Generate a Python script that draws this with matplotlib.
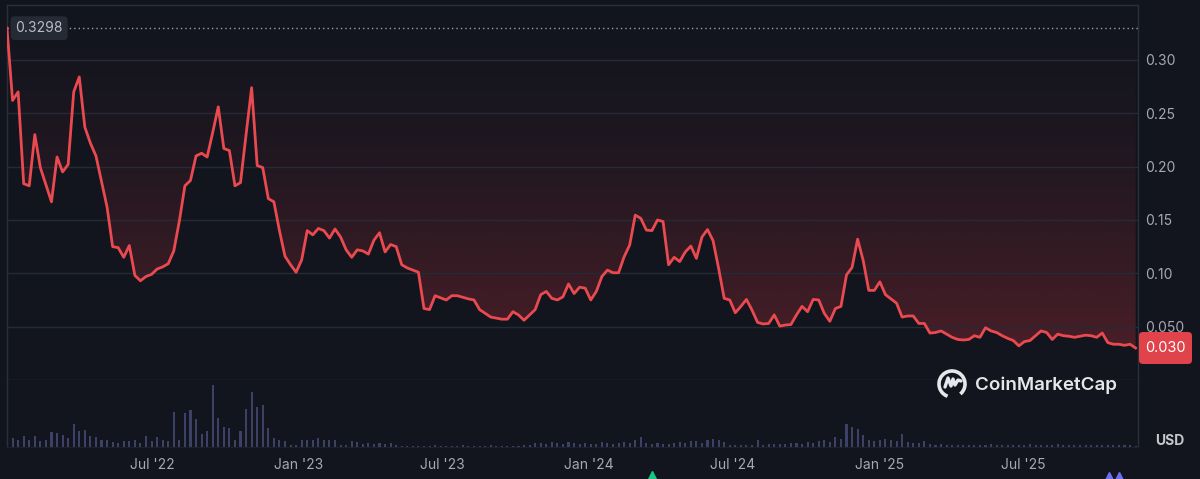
import numpy as np
import pandas as pd
import matplotlib
matplotlib.use("Agg")
import matplotlib.pyplot as plt
import matplotlib.dates as mdates
from matplotlib.patches import FancyBboxPatch, Arc
from matplotlib.transforms import IdentityTransform, blended_transform_factory
from matplotlib.lines import Line2D

plt.rcParams['font.family'] = ['Inter', 'DejaVu Sans']

# ---------------- data ----------------
start_date = "2021-12-30"
price_usd = [
    0.3298, 0.262, 0.270, 0.184, 0.182, 0.230, 0.199, 0.183, 0.167, 0.209,
    0.195, 0.202, 0.270, 0.284, 0.237, 0.222, 0.210, 0.186, 0.162, 0.125,
    0.124, 0.115, 0.126, 0.098, 0.093, 0.097, 0.099, 0.104, 0.106, 0.109,
    0.121, 0.149, 0.182, 0.187, 0.210, 0.2125, 0.209, 0.232, 0.256, 0.217,
    0.215, 0.182, 0.185, 0.230, 0.274, 0.201, 0.199, 0.170, 0.167, 0.140,
    0.116, 0.108, 0.101, 0.1125, 0.140, 0.136, 0.142, 0.140, 0.133, 0.1415,
    0.134, 0.122, 0.115, 0.122, 0.121, 0.118, 0.131, 0.138, 0.120, 0.127,
    0.125, 0.108, 0.105, 0.103, 0.101, 0.067, 0.066, 0.079, 0.077, 0.075,
    0.079, 0.079, 0.0775, 0.076, 0.075, 0.066, 0.0625, 0.059, 0.058, 0.057,
    0.057, 0.064, 0.061, 0.056, 0.061, 0.066, 0.080, 0.083, 0.0765, 0.075,
    0.078, 0.090, 0.081, 0.087, 0.086, 0.075, 0.083, 0.097, 0.103, 0.1005,
    0.1005, 0.1155, 0.1265, 0.1545, 0.1515, 0.1405, 0.140, 0.150, 0.1485, 0.108,
    0.115, 0.111, 0.120, 0.1255, 0.114, 0.134, 0.141, 0.1305, 0.1045, 0.0765,
    0.075, 0.063, 0.069, 0.0755, 0.0655, 0.054, 0.0525, 0.053, 0.061, 0.0505,
    0.0515, 0.052, 0.061, 0.069, 0.064, 0.0755, 0.075, 0.0625, 0.055, 0.067,
    0.069, 0.0985, 0.1055, 0.132, 0.112, 0.084, 0.084, 0.092, 0.080, 0.076,
    0.072, 0.059, 0.060, 0.060, 0.053, 0.053, 0.044, 0.0445, 0.046, 0.043,
    0.040, 0.038, 0.0375, 0.038, 0.0415, 0.040, 0.049, 0.046, 0.0445, 0.0415,
    0.039, 0.037, 0.032, 0.036, 0.037, 0.0415, 0.046, 0.0445, 0.038, 0.043,
    0.0415, 0.041, 0.040, 0.041, 0.042, 0.0415, 0.040, 0.044, 0.035, 0.0335,
    0.0335, 0.0325, 0.0335, 0.030,
]
volume_m = [
    9, 9, 6.7, 11, 7, 10.7, 5.7, 7, 14.7, 14,
    12.3, 9, 23, 15.7, 17.3, 11.3, 9.7, 7.3, 7.3, 4.7,
    4, 5.7, 5.7, 6.7, 4, 11.3, 5.7, 9.7, 6.7, 5.7,
    34.7, 7.3, 34, 36.7, 28, 13.3, 15.7, 62.3, 29, 20,
    19, 7.3, 15.7, 38, 54.7, 40, 42.3, 19, 9, 7.3,
    5.7, 2.3, 2.3, 7.3, 7.3, 7.3, 9, 7.3, 7.3, 6.7,
    2.3, 2.3, 5.7, 4.7, 3.3, 4, 3.3, 4, 3.3, 4,
    2.3, 1.5, 1.5, 1.5, 1.5, 1.5, 1.5, 2, 1.5, 1.5,
    1.5, 1.5, 2, 1.5, 1.5, 1.5, 1.5, 2, 1.5, 1.5,
    1.5, 1.5, 1.5, 2, 2, 4, 4.5, 3.5, 5, 4,
    3.5, 5, 4, 3, 4, 3, 3.5, 5, 4, 3,
    4, 5, 4, 7, 10, 4, 3.5, 4, 3, 3.5,
    4, 5, 4.5, 6, 6, 4, 7, 8, 7, 5,
    2, 2, 2, 2, 2, 7, 2.5, 3, 3.5, 3,
    3, 4, 4, 3, 5, 4, 6, 7, 5, 10,
    8, 23, 20, 18, 12, 7, 6, 7, 8, 7,
    6, 13, 5, 4, 4, 6, 3, 2.5, 3, 2,
    2, 2.5, 2, 2, 2.5, 2, 2, 3, 2, 2,
    2, 2.5, 2, 2, 3, 2, 2, 2.5, 2, 3,
    2, 2, 2.5, 2, 2, 2, 2, 2, 2, 2,
    2, 2.5, 2, 1.5,
]
dates = pd.date_range(start_date, periods=len(price_usd), freq="7D")

y_ticks = [0.05, 0.10, 0.15, 0.20, 0.25, 0.30]
y_tick_labels = ["0.050", "0.10", "0.15", "0.20", "0.25", "0.30"]
x_ticks = pd.to_datetime(["2022-07-01", "2023-01-01", "2023-07-01", "2024-01-01",
                          "2024-07-01", "2025-01-01", "2025-07-01"])
x_tick_labels = ["Jul '22", "Jan '23", "Jul '23", "Jan '24", "Jul '24", "Jan '25", "Jul '25"]
ath_value = max(price_usd)
last_value = price_usd[-1]

# ---------------- style ----------------
BG = "#12151e"
GRID = "#262a35"
SPINE = "#2b2f3b"
RED = "#ea4a4f"
TXT = "#a6a9b2"
VOL = "#3d4166"

W, H = 1200, 479
fig = plt.figure(figsize=(W / 100, H / 100), dpi=100, facecolor=BG)


def fx(px):
    return px / W


def fy(py):
    return 1 - py / H


L, R = 7, 1138
ax = fig.add_axes([fx(L), fy(380), fx(R) - fx(L), fy(5) - fy(380)], facecolor=BG)
axv = fig.add_axes([fx(L), fy(447), fx(R) - fx(L), fy(380) - fy(447)], facecolor=BG, sharex=ax)

x0 = mdates.date2num(dates[0])
x1 = x0 + 1424
ytop = (380 - 5) / 1067.0
ax.set_xlim(x0, x1)
ax.set_ylim(0, ytop)

# gradient above the line
n = 300
vals = np.linspace(0, ytop, n)
alpha = 0.26 * np.clip((0.36 - vals) / 0.33, 0, 1) ** 1.6
img = np.zeros((n, 1, 4))
img[:, 0, 0] = 234 / 255
img[:, 0, 1] = 57 / 255
img[:, 0, 2] = 67 / 255
img[:, 0, 3] = alpha
poly = ax.fill_between(dates, price_usd, ytop, facecolor="none", edgecolor="none")
im = ax.imshow(img, extent=[x0, x1, 0, ytop], origin="lower", aspect="auto",
               interpolation="bilinear", zorder=1)
im.set_clip_path(poly.get_paths()[0], ax.transData)

ax.plot(dates, price_usd, color=RED, lw=2.0, zorder=4, solid_joinstyle="round")

# ATH dotted line + label
ax.axhline(ath_value, color="#9a9ea8", lw=1.0, ls=(0, (1, 2.2)), zorder=3)
btr = blended_transform_factory(ax.transAxes, ax.transData)
ax.text(0.0075, ath_value, f"{ath_value:.4f}", transform=btr, ha="left", va="center",
        color="#b8bcc6", fontsize=10,
        bbox=dict(boxstyle="round,pad=0.35,rounding_size=0.3", fc="#262a35", ec="none"),
        zorder=5)

# grid / spines
ax.set_yticks(y_ticks)
ax.set_yticklabels(y_tick_labels)
ax.yaxis.tick_right()
ax.tick_params(axis="y", length=0, pad=5, labelsize=10, labelcolor=TXT)
ax.grid(axis="y", color=GRID, lw=1)
ax.tick_params(axis="x", which="both", length=0, labelbottom=False)
for s in ["top", "left", "right", "bottom"]:
    ax.spines[s].set_color(SPINE)
    ax.spines[s].set_linewidth(1)

# volume
axv.bar(dates, volume_m, width=2.6, color=VOL, align="center", zorder=2)
axv.set_ylim(0, 67)
axv.set_yticks([])
axv.set_xticks(x_ticks)
axv.set_xticklabels(x_tick_labels)
axv.tick_params(axis="x", length=0, pad=8, labelsize=10, labelcolor=TXT)
axv.spines["top"].set_visible(False)
axv.spines["bottom"].set_color("#1c202a")
for s in ["left", "right"]:
    axv.spines[s].set_color(SPINE)
    axv.spines[s].set_linewidth(1)

# current price tag
fig.canvas.draw()
yd = ax.transData.transform((x0, last_value))[1]
tag = FancyBboxPatch((R + 1, yd - 16), 53, 32, boxstyle="round,pad=0,rounding_size=4",
                     fc="#e0434a", ec="none", transform=IdentityTransform(), zorder=10)
fig.add_artist(tag)
fig.text(fx(R + 27.5), yd / H, f"{last_value:.3f}", ha="center", va="center",
         color="white", fontsize=10.5, zorder=11)

# USD label
fig.text(fx(1170), fy(441), "USD", ha="center", va="center", color="#c4c7ce",
         fontsize=10, fontweight="bold")

# CoinMarketCap watermark
cx, cy, r = 952, 384, 13
ring = Arc((cx, H - cy), 2 * r, 2 * r, theta1=-50, theta2=250, lw=2.6, color="#e6e7ea",
           transform=IdentityTransform())
fig.add_artist(ring)
wave = Line2D([cx - 7, cx - 4, cx - 1, cx + 1, cx + 3, cx + 6, cx + 9],
              [H - cy - 3, H - cy + 6, H - cy - 2, H - cy + 5, H - cy - 1, H - cy + 4, H - cy + 3],
              lw=2.4, color="#e6e7ea", transform=IdentityTransform(),
              solid_joinstyle="round", solid_capstyle="round")
fig.add_artist(wave)
fig.text(fx(975), fy(385), "CoinMarketCap", ha="left", va="center", color="#e6e7ea",
         fontsize=13.5, fontweight="semibold")

# small partial markers at bottom edge
fig.add_artist(Line2D([652], [H - 477], marker="^", ms=9, color="#16c784",
                      transform=IdentityTransform(), ls="none"))
fig.add_artist(Line2D([1109, 1119], [H - 478, H - 478], marker="^", ms=9, color="#6b6ff0",
                      transform=IdentityTransform(), ls="none"))

fig.savefig("out.png", dpi=100, facecolor=BG)
